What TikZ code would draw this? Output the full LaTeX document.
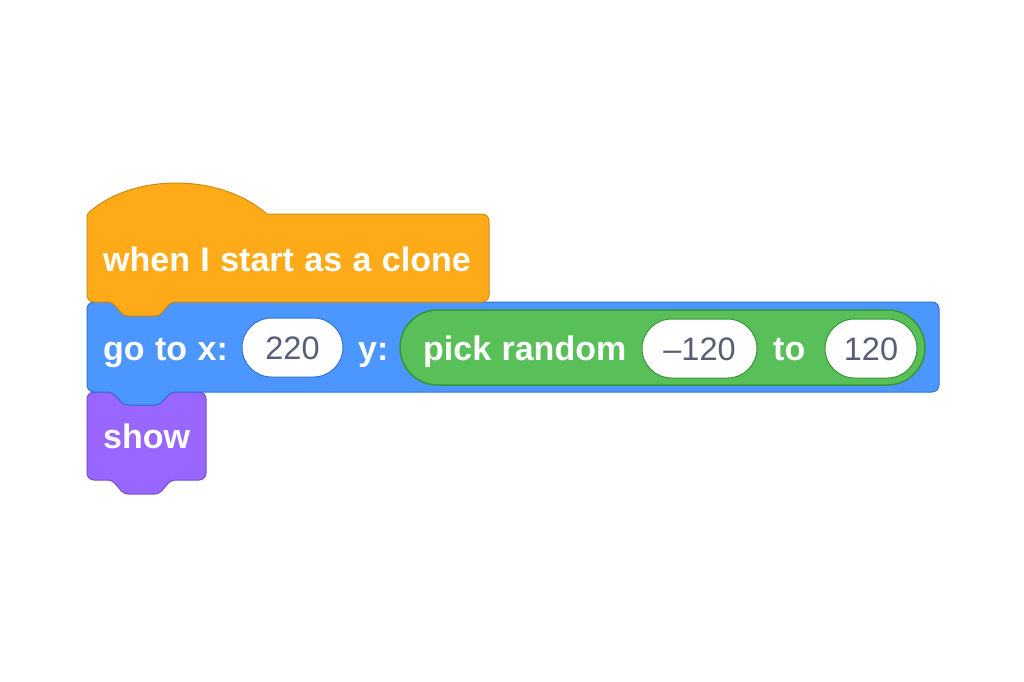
\documentclass[tikz,border=0pt]{standalone}
\usepackage{fontspec}
\setmainfont{Liberation Sans}[WordSpace=1.1]
\definecolor{evFill}{HTML}{FFAB19}
\definecolor{evLine}{HTML}{CF8B17}
\definecolor{moFill}{HTML}{4C97FF}
\definecolor{moLine}{HTML}{3373CC}
\definecolor{lkFill}{HTML}{9966FF}
\definecolor{lkLine}{HTML}{774DCB}
\definecolor{opFill}{HTML}{59C059}
\definecolor{opLine}{HTML}{389438}
\definecolor{numText}{HTML}{575E75}
\tikzset{
  blocklabel/.style={anchor=base west, inner sep=0pt, text=white,
    font=\fontsize{34}{40}\selectfont\bfseries},
  inputpill/.style={draw=#1, line width=1pt, fill=white, minimum height=59pt,
    rounded corners=29.5pt, inner sep=0pt, text=numText,
    text height=23pt, text depth=0pt,
    font=\fontsize{32.5}{36}\selectfont},
}
\begin{document}
\begin{tikzpicture}[x=1pt,y=-1pt]
\useasboundingbox (0,0) rectangle (1024,681);

% looks block: show
\draw[fill=lkFill, draw=lkLine, line width=1pt]
  (87,436) [rounded corners=7pt] -- (87,392) [rounded corners=4pt] -- (112,392)
  -- (124,405) -- (159,405) -- (171,392) [rounded corners=7pt] -- (206,392)
  -- (206,480) [rounded corners=4pt] -- (171,480) -- (159,494) -- (124,494)
  -- (112,480) [rounded corners=7pt] -- (87,480) -- cycle;

% motion block: go to x: y:
\draw[fill=moFill, draw=moLine, line width=1pt]
  (87,347) [rounded corners=7pt] -- (87,302) [rounded corners=4pt] -- (112,302)
  -- (124,316) -- (159,316) -- (171,302) [rounded corners=7pt] -- (939,302)
  -- (939,392) [rounded corners=4pt] -- (171,392) -- (159,405) -- (124,405)
  -- (112,392) [rounded corners=7pt] -- (87,392) -- cycle;

% operator reporter: pick random
\node[draw=opLine, fill=opFill, line width=1.5pt, minimum width=525pt,
  minimum height=75pt, rounded corners=37.5pt, inner sep=0pt]
  (rnd) at (662.5,347.5) {};

% events hat block: when I start as a clone
\draw[fill=evFill, draw=evLine, line width=1pt]
  (87,260) [rounded corners=3pt] -- (87,214) [sharp corners]
  .. controls (134,173) and (220,173) .. (267,214)
  [rounded corners=7pt] -- (489,214) -- (489,302) [rounded corners=4pt]
  -- (171,302) -- (159,316) -- (124,316) -- (112,302) [rounded corners=7pt]
  -- (87,302) -- cycle;

% labels
\node[blocklabel] (hatlbl) at (103,271) {when I start as a clone};
\node[blocklabel] (golbl) at (103,360) {go to x:};
\node[inputpill=moLine, minimum width=101pt] (xval) at (292.5,347.5) {220};
\node[blocklabel] (ylbl) at (358,360) {y:};
\node[blocklabel] (picklbl) at (423,360) {pick random};
\node[inputpill=opLine, minimum width=115pt] (lo) at (699.5,348.5) {–120};
\node[blocklabel] (tolbl) at (773,360) {to};
\node[inputpill=opLine, minimum width=92pt] (hi) at (871,348.5) {120};
\node[blocklabel] (showlbl) at (103,448) {show};
\end{tikzpicture}
\end{document}
